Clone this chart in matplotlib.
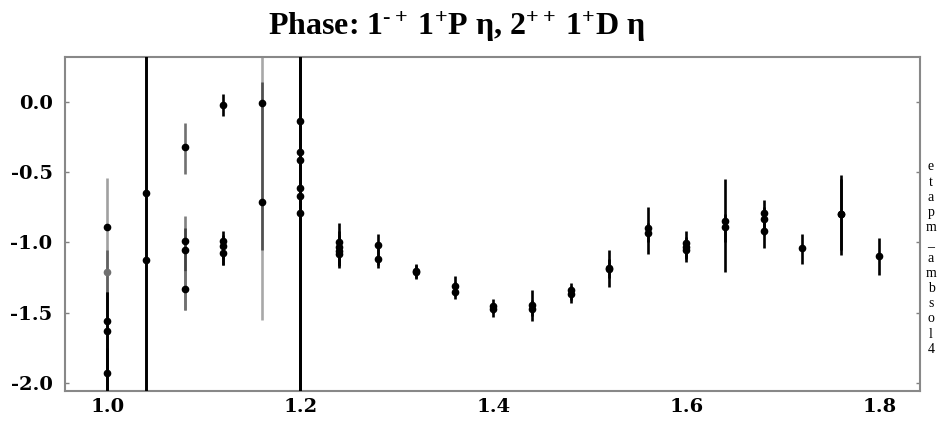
"""Phase plot: 1-+ 1+ P eta vs 2++ 1+ D eta."""

import matplotlib
matplotlib.use("Agg")
import matplotlib.pyplot as plt
import numpy as np

plt.rcParams["font.family"] = ["Liberation Serif", "DejaVu Serif"]
plt.rcParams["font.weight"] = "bold"
plt.rcParams["mathtext.fontset"] = "custom"
plt.rcParams["mathtext.rm"] = "Liberation Serif:bold"
plt.rcParams["mathtext.it"] = "Liberation Serif"
plt.rcParams["mathtext.bf"] = "Liberation Serif:bold"

# mass bin, phase, bar bottom, bar top, bar shade
mass = [1.00, 1.00, 1.00, 1.00, 1.00,
        1.04, 1.04,
        1.08, 1.08, 1.08, 1.08,
        1.12, 1.12, 1.12, 1.12,
        1.16, 1.16,
        1.20, 1.20, 1.20, 1.20, 1.20, 1.20,
        1.24, 1.24, 1.24, 1.24,
        1.28, 1.28,
        1.32, 1.32,
        1.36, 1.36,
        1.40, 1.40,
        1.44, 1.44,
        1.48, 1.48,
        1.52, 1.52,
        1.56, 1.56,
        1.60, 1.60, 1.60,
        1.64, 1.64,
        1.68, 1.68, 1.68,
        1.72,
        1.76, 1.76,
        1.80]
phase = [-0.89, -1.21, -1.56, -1.63, -1.93,
         -0.65, -1.125,
         -0.32, -0.99, -1.05, -1.33,
         -0.02, -0.99, -1.025, -1.075,
         -0.01, -0.71,
         -0.135, -0.355, -0.41, -0.615, -0.67, -0.79,
         -1.00, -1.03, -1.06, -1.08,
         -1.02, -1.115,
         -1.20, -1.21,
         -1.31, -1.35,
         -1.455, -1.47,
         -1.445, -1.47,
         -1.34, -1.37,
         -1.18, -1.19,
         -0.90, -0.93,
         -1.005, -1.03, -1.05,
         -0.85, -0.89,
         -0.79, -0.83, -0.915,
         -1.04,
         -0.80, -0.80,
         -1.095]
bar_lo = [-2.3, -2.3, -2.3, -2.3, -2.3,
          -2.5, -2.5,
          -0.51, -1.48, -1.20, -1.48,
          -0.10, -1.16, -1.12, -1.16,
          -1.55, -1.05,
          -2.5, -2.5, -2.5, -2.5, -2.5, -2.5,
          -1.18, -1.14, -1.16, -1.17,
          -1.18, -1.16,
          -1.26, -1.25,
          -1.40, -1.38,
          -1.53, -1.50,
          -1.56, -1.52,
          -1.43, -1.41,
          -1.32, -1.25,
          -1.08, -1.00,
          -1.14, -1.10, -1.12,
          -1.21, -1.00,
          -0.90, -0.95, -1.04,
          -1.15,
          -1.09, -1.05,
          -1.235]
bar_hi = [-0.54, -1.05, -1.35, -1.35, -1.75,
          0.5, 0.5,
          -0.15, -0.81, -0.90, -1.20,
          0.06, -0.92, -0.95, -1.00,
          0.5, 0.145,
          0.5, 0.5, 0.5, 0.5, 0.5, 0.5,
          -0.86, -0.92, -0.95, -0.98,
          -0.94, -1.00,
          -1.15, -1.16,
          -1.24, -1.28,
          -1.40, -1.43,
          -1.34, -1.41,
          -1.29, -1.31,
          -1.05, -1.12,
          -0.75, -0.86,
          -0.92, -0.96, -0.98,
          -0.55, -0.80,
          -0.70, -0.75, -0.85,
          -0.94,
          -0.52, -0.55,
          -0.965]
shade = ["#a0a0a0", "#606060", "#202020", "k", "k",
         "k", "k",
         "#707070", "#808080", "#404040", "#707070",
         "k", "k", "k", "k",
         "#a8a8a8", "#505050",
         "k", "k", "k", "k", "k", "k",
         "k", "k", "k", "k",
         "k", "k",
         "k", "k",
         "k", "k",
         "k", "k",
         "k", "k",
         "k", "k",
         "k", "k",
         "k", "k",
         "k", "k", "k",
         "k", "k",
         "k", "k", "k",
         "k",
         "k", "k",
         "k"]

x_ticks = [1.0, 1.2, 1.4, 1.6, 1.8]
y_ticks = [0.0, -0.5, -1.0, -1.5, -2.0]
side_label = "etapm_ambsol4"

fig = plt.figure(figsize=(9.44, 4.24), dpi=100)
ax = fig.add_axes([65 / 944, 1 - 391 / 424, 855 / 944, 334 / 424])

phase = np.array(phase)
lo = phase - np.array(bar_lo)
hi = np.array(bar_hi) - phase
# grey bars first so the black ones sit on top
order = sorted(range(len(mass)), key=lambda i: shade[i] == "k")
for i in order:
    mc = "#707070" if i == 1 else "k"
    ax.errorbar(mass[i], phase[i], yerr=[[lo[i]], [hi[i]]], fmt="o",
                color=mc, ecolor=shade[i], ms=4.5, lw=1.9, capsize=0,
                zorder=3 if shade[i] == "k" else 2)

ax.set_xlim(0.956, 1.842)
ax.set_ylim(-2.057, 0.32)
ax.set_xticks(x_ticks)
ax.set_xticklabels([f"{v:.1f}" for v in x_ticks])
ax.set_yticks(y_ticks)
ax.set_yticklabels([f"{v:.1f}" for v in y_ticks])
ax.tick_params(axis="both", direction="in", length=3, width=1, color="#808080",
               labelsize=14, right=True, top=False)
ax.tick_params(axis="y", pad=9)
ax.tick_params(axis="x", length=0, pad=5)
for lab in ax.get_xticklabels() + ax.get_yticklabels():
    lab.set_family("DejaVu Serif")
    lab.set_weight("bold")
for s in ax.spines.values():
    s.set_color("#888888")
    s.set_linewidth(1.5)

fig.text(457 / 944, 1 - 27 / 424,
         "Phase: 1$^{\u2010+}$\u20091$^{+}$P $\\eta$, 2$^{++}$\u20091$^{+}$D $\\eta$",
         ha="center", va="center", fontsize=23, fontweight="bold")

fig.text(931 / 944, 1 - 258 / 424, "\n".join(side_label),
         ha="center", va="center", fontsize=10, fontweight="normal", linespacing=1.22)

fig.savefig("out.png", dpi=100)
plt.close(fig)
